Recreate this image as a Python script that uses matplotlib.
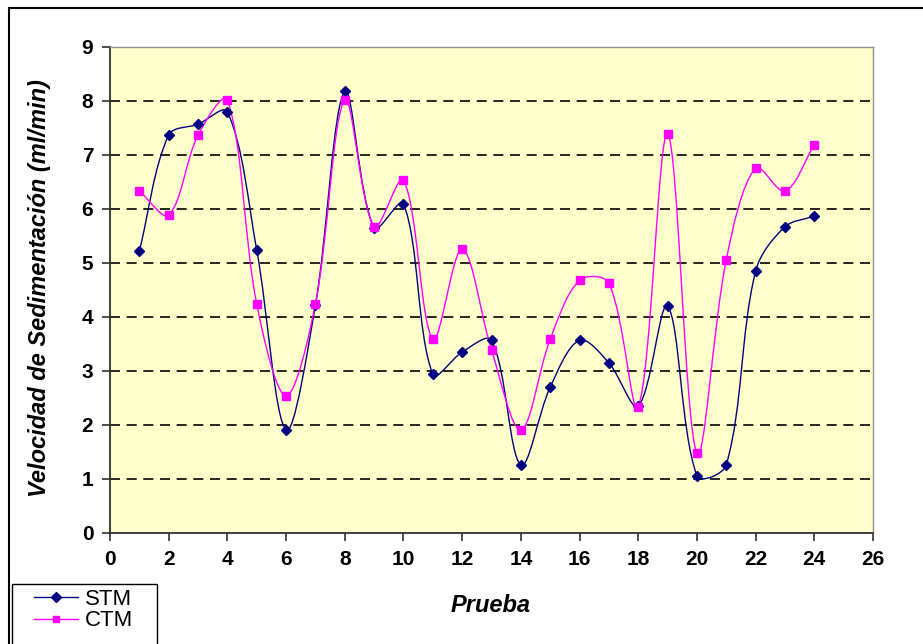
import numpy as np
import matplotlib
matplotlib.use("Agg")
import matplotlib.pyplot as plt
from matplotlib.path import Path
from matplotlib.patches import PathPatch, Rectangle
from matplotlib.lines import Line2D

# data
prueba = list(range(1, 25))
stm = [5.22, 7.37, 7.57, 7.80, 5.24, 1.91, 4.22, 8.18, 5.65, 6.10, 2.94, 3.35,
       3.57, 1.26, 2.70, 3.57, 3.15, 2.35, 4.20, 1.06, 1.26, 4.85, 5.67, 5.87]
ctm = [6.33, 5.89, 7.37, 8.02, 4.24, 2.54, 4.24, 8.02, 5.67, 6.54, 3.59, 5.26,
       3.39, 1.91, 3.59, 4.68, 4.63, 2.33, 7.39, 1.48, 5.06, 6.76, 6.33, 7.19]
x_ticks = list(range(0, 27, 2))
y_ticks = list(range(0, 10))

plt.rcParams['font.family'] = ['Liberation Sans', 'DejaVu Sans']

W, H = 923, 644
# axes box in pixels
AX_L, AX_R, AX_T, AX_B = 110, 873, 47, 533
SX = (AX_R - AX_L) / 26.0   # px per x unit
SY = (AX_B - AX_T) / 9.0    # px per y unit


def smooth_path(xs, ys):
    # excel style smoothed line: bezier with chord weighted tangents (screen space)
    pts = np.column_stack([xs, ys]).astype(float)
    scale = np.array([SX, SY])
    n = len(pts)
    verts = [pts[0]]
    codes = [Path.MOVETO]
    for i in range(n - 1):
        p0 = pts[i - 1] if i > 0 else pts[i]
        p1 = pts[i]
        p2 = pts[i + 1]
        p3 = pts[i + 2] if i + 2 < n else pts[i + 1]
        d01 = np.hypot(*((p1 - p0) * scale))
        d12 = np.hypot(*((p2 - p1) * scale))
        d23 = np.hypot(*((p3 - p2) * scale))
        f1 = d12 / (d01 + d12) if d01 + d12 > 0 else 0
        f2 = d12 / (d12 + d23) if d12 + d23 > 0 else 0
        c1 = p1 + (p2 - p0) * f1 / 3.0
        c2 = p2 - (p3 - p1) * f2 / 3.0
        verts += [c1, c2, p2]
        codes += [Path.CURVE4] * 3
    return Path(verts, codes)


fig = plt.figure(figsize=(W / 100, H / 100), dpi=100)
ax = fig.add_axes([AX_L / W, 1 - AX_B / H, (AX_R - AX_L) / W, (AX_B - AX_T) / H])
ax.set_facecolor('#FFFFCC')

navy = '#000080'
magenta = '#FF00FF'

ax.add_patch(PathPatch(smooth_path(prueba, stm), fill=False, edgecolor=navy, lw=1.0, zorder=3))
ax.add_patch(PathPatch(smooth_path(prueba, ctm), fill=False, edgecolor=magenta, lw=1.0, zorder=3))
ax.plot(prueba, stm, linestyle='none', marker='D', color=navy, ms=5.5, zorder=4)
ax.plot(prueba, ctm, linestyle='none', marker='s', color=magenta, ms=5.5, zorder=4)

ax.set_xlim(0, 26)
ax.set_ylim(0, 9)
ax.set_xticks(x_ticks)
ax.set_yticks(y_ticks)
for y in y_ticks[1:-1]:
    ax.axhline(y, color='black', lw=1.2, ls=(0, (6, 4)), zorder=1)

for s in ['top', 'right']:
    ax.spines[s].set_color('#909090')
    ax.spines[s].set_linewidth(1.0)
for s in ['left', 'bottom']:
    ax.spines[s].set_color('#303030')
    ax.spines[s].set_linewidth(1.3)
ax.tick_params(direction='out', length=6, width=1.2, color='#303030',
               labelsize=15, pad=6)
for lab in ax.get_xticklabels() + ax.get_yticklabels():
    lab.set_fontweight('bold')

fig.text(491 / W, 1 - 606 / H, 'Prueba', fontsize=17, fontweight='bold',
         style='italic', ha='center', va='center')
fig.text(40 / W, 1 - 288 / H, 'Velocidad de Sedimentación (ml/min)', fontsize=17,
         fontweight='bold', style='italic', ha='center', va='center', rotation=90)

# outer chart frame
fig.patches.append(Rectangle((9 / W, -0.1), 1.2, 1 - 8 / H + 0.1, transform=fig.transFigure,
                             fill=False, edgecolor='black', lw=1.5))

# legend box (clipped by the bottom of the picture)
fig.patches.append(Rectangle((12 / W, -0.05), 145 / W, 0.05 + 1 - 584 / H,
                             transform=fig.transFigure, facecolor='white',
                             edgecolor='black', lw=1.0, zorder=5))
handles = [Line2D([], [], color=navy, marker='D', ms=5, lw=1),
           Line2D([], [], color=magenta, marker='s', ms=5, lw=1)]
leg = fig.legend(handles, ['STM', 'CTM'], loc='upper left',
                 bbox_to_anchor=(34 / W, 1 - 589 / H), fontsize=16, frameon=False,
                 borderpad=0, labelspacing=0.02, handlelength=2.0,
                 handletextpad=0.3, borderaxespad=0)
leg.set_zorder(6)

fig.savefig('out.png', dpi=100)
